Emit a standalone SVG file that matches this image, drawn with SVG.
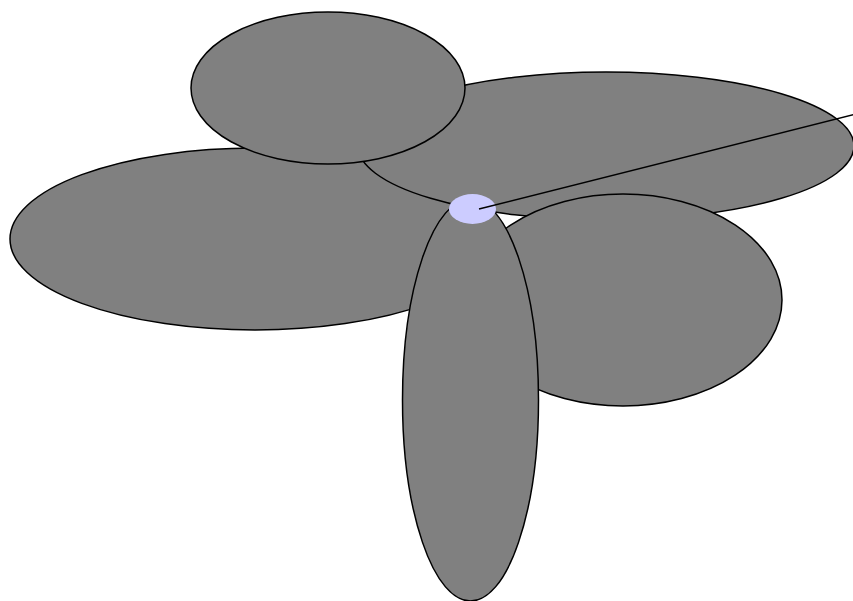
<svg xmlns="http://www.w3.org/2000/svg" width="853" height="601" viewBox="0 0 853 601">
<style>
.n{fill:#808080;stroke:#000;stroke-width:1.5}
.c{fill:#ccccff;stroke:none}
.e{stroke:#000;stroke-width:1.5;fill:none}
</style>
<rect width="853" height="601" fill="#fff"/>
<g id="n-left"><ellipse class="n" cx="255" cy="239" rx="245" ry="91"/></g>
<g id="n-right"><ellipse class="n" cx="606" cy="146" rx="248" ry="74"/></g>
<g id="n-top"><ellipse class="n" cx="328" cy="88" rx="137" ry="76"/></g>
<g id="n-rightlow"><ellipse class="n" cx="623" cy="300" rx="159" ry="106"/></g>
<g id="n-bottom"><ellipse class="n" cx="470.5" cy="400" rx="68" ry="201"/></g>
<g id="n-center"><ellipse class="c" cx="472.5" cy="209" rx="23.5" ry="15"/></g>
<g id="connectors"><line class="e" x1="479" y1="209" x2="880" y2="108"/></g>
</svg>
